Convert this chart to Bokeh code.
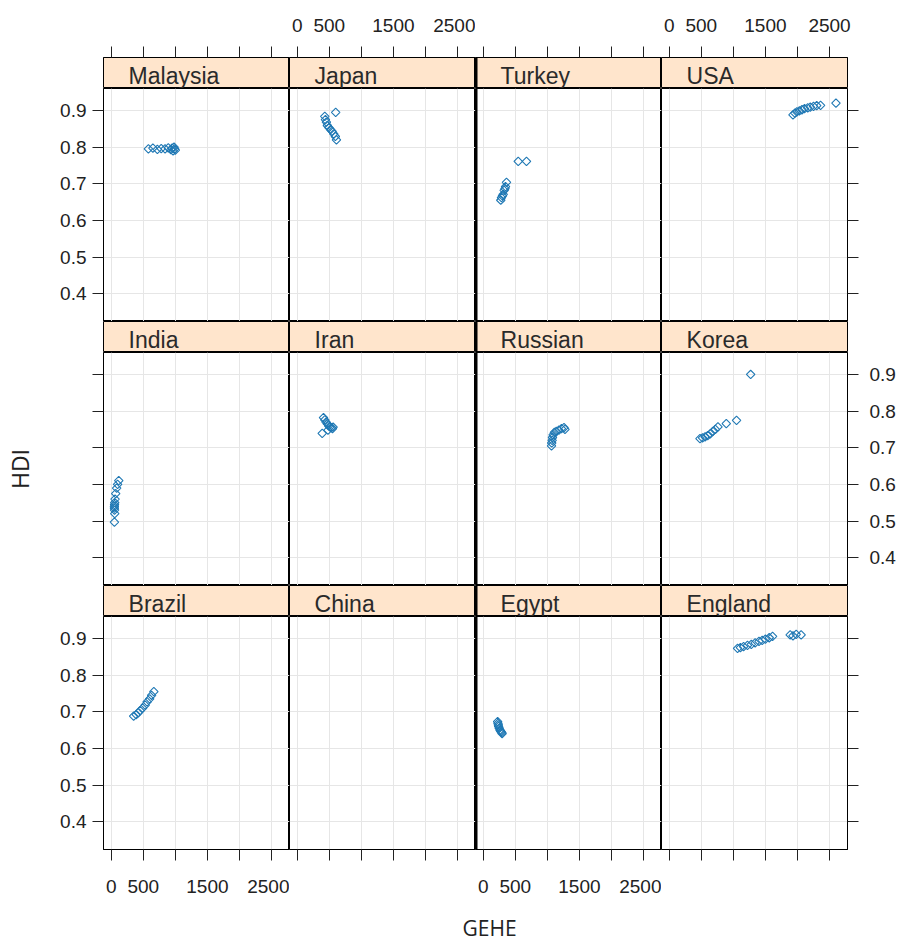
import numpy as np
from bokeh.plotting import figure
from bokeh.layouts import gridplot, column
from bokeh.models import Range1d, FixedTicker, LinearAxis, Span
from bokeh.core.properties import value
from bokeh.embed import file_html
from bokeh.resources import INLINE

# ---------------- data ----------------
countries = ["Malaysia", "Japan", "Turkey", "USA",
             "India", "Iran", "Russian", "Korea",
             "Brazil", "China", "Egypt", "England"]

malaysia_gehe = [580, 650, 720, 780, 840, 890, 930, 950, 965, 980, 990, 1000]
malaysia_hdi = [0.795, 0.797, 0.794, 0.796, 0.795, 0.798, 0.793, 0.797, 0.790, 0.800, 0.795, 0.792]
japan_gehe = [430, 440, 455, 470, 495, 520, 545, 570, 595, 612, 600]
japan_hdi = [0.884, 0.875, 0.868, 0.859, 0.853, 0.848, 0.843, 0.836, 0.829, 0.820, 0.895]
turkey_gehe = [274, 285, 300, 312, 327, 340, 348, 363, 546, 675]
turkey_hdi = [0.655, 0.662, 0.667, 0.671, 0.682, 0.687, 0.692, 0.704, 0.761, 0.761]
usa_gehe = [1930, 1960, 1990, 2030, 2070, 2110, 2160, 2200, 2250, 2300, 2360, 2600]
usa_hdi = [0.888, 0.893, 0.896, 0.899, 0.902, 0.905, 0.907, 0.909, 0.911, 0.913, 0.914, 0.920]
india_gehe = [118, 100, 85, 70, 60, 55, 52, 50, 50, 52, 55, 50]
india_hdi = [0.610, 0.600, 0.590, 0.575, 0.560, 0.550, 0.545, 0.540, 0.535, 0.530, 0.520, 0.497]
iran_gehe = [410, 430, 450, 470, 490, 510, 530, 550, 560, 480, 390]
iran_hdi = [0.782, 0.776, 0.770, 0.765, 0.760, 0.757, 0.755, 0.752, 0.756, 0.748, 0.739]
russian_gehe = [1065, 1068, 1075, 1080, 1090, 1110, 1140, 1180, 1220, 1260, 1275]
russian_hdi = [0.705, 0.713, 0.720, 0.728, 0.735, 0.742, 0.745, 0.748, 0.752, 0.755, 0.750]
korea_gehe = [480, 520, 560, 600, 640, 680, 720, 760, 890, 1050, 1270]
korea_hdi = [0.725, 0.727, 0.730, 0.733, 0.738, 0.745, 0.750, 0.757, 0.766, 0.775, 0.900]
brazil_gehe = [350, 390, 420, 450, 490, 530, 560, 600, 630, 665]
brazil_hdi = [0.688, 0.692, 0.697, 0.703, 0.710, 0.718, 0.727, 0.735, 0.745, 0.755]
china_gehe = []
china_hdi = []
egypt_gehe = [225, 230, 236, 240, 250, 262, 270, 280, 290, 295]
egypt_hdi = [0.673, 0.668, 0.664, 0.660, 0.655, 0.650, 0.648, 0.645, 0.643, 0.640]
england_gehe = [1066, 1110, 1160, 1220, 1280, 1340, 1400, 1450, 1500, 1560, 1612, 1886, 1930, 1980, 2057]
england_hdi = [0.873, 0.875, 0.878, 0.881, 0.884, 0.888, 0.892, 0.895, 0.898, 0.902, 0.906, 0.910, 0.907, 0.911, 0.910]

gehe_values = [malaysia_gehe, japan_gehe, turkey_gehe, usa_gehe,
               india_gehe, iran_gehe, russian_gehe, korea_gehe,
               brazil_gehe, china_gehe, egypt_gehe, england_gehe]
hdi_values = [malaysia_hdi, japan_hdi, turkey_hdi, usa_hdi,
              india_hdi, iran_hdi, russian_hdi, korea_hdi,
              brazil_hdi, china_hdi, egypt_hdi, england_hdi]

x_ticks = [0, 500, 1000, 1500, 2000, 2500]
x_hidden_labels = [1000, 2000]
y_ticks = [0.4, 0.5, 0.6, 0.7, 0.8, 0.9]
x_title = "GEHE"
y_title = "HDI"

# ---------------- style / geometry ----------------
X_LIM = (-120, 2780)
Y_LIM = (0.324, 0.96)
NCOL, NROW = 4, 3
FW, PH, SH = 186, 233, 31
LEFT_B, RIGHT_B, TOP_B, BOT_B = 103, 50, 57, 56
TITLE_H = 36
STRIP_FILL = "#ffe5cc"
PT_COLOR = "#1f78b4"
GRID_COLOR = "#e6e6e6"
TICK_FONT = "19px"
FONT = "Liberation Sans"


def base_fig(h, r, c, is_strip):
    p = figure(frame_width=FW, frame_height=h,
               x_range=Range1d(*X_LIM),
               y_range=Range1d(0, 1) if is_strip else Range1d(*Y_LIM),
               x_axis_location=None, y_axis_location=None,
               toolbar_location=None, output_backend="svg", min_border=0)
    p.min_border_left = LEFT_B if c == 0 else 0
    p.min_border_right = RIGHT_B if c == NCOL - 1 else 0
    p.min_border_top = TOP_B if (is_strip and r == 0) else 0
    p.min_border_bottom = BOT_B if (not is_strip and r == NROW - 1) else 0
    p.outline_line_color = "black"
    p.outline_line_width = 1
    p.border_fill_color = "white"
    if c == 2:
        p.add_layout(Span(location=X_LIM[0], dimension="height",
                          line_color="black", line_width=4))
    return p


def style_axis(ax, show_labels, standoff):
    ax.major_tick_out = 11
    ax.major_tick_in = 0
    ax.minor_tick_out = 0
    ax.minor_tick_in = 0
    ax.major_tick_line_color = "#222222"
    ax.axis_line_color = "black"
    ax.major_label_standoff = standoff
    ax.major_label_text_font = FONT
    ax.major_label_text_font_size = TICK_FONT
    ax.major_label_text_color = "#222222" if show_labels else None


def make_strip(name, r, c):
    p = base_fig(SH, r, c, True)
    p.grid.visible = False
    p.background_fill_color = STRIP_FILL
    p.text(x=[X_LIM[0] + 0.135 * (X_LIM[1] - X_LIM[0])], y=[0.40], text=[name],
           text_font=value(FONT), text_font_size="23px",
           text_baseline="alphabetic", text_align="left", text_color="#2a2a2a")
    if r == 0:
        ax = LinearAxis(ticker=FixedTicker(ticks=x_ticks),
                        major_label_overrides={v: "" for v in x_hidden_labels})
        style_axis(ax, c % 2 == 1, 15)
        p.add_layout(ax, "above")
    return p


def make_panel(gx, gy, r, c):
    p = base_fig(PH, r, c, False)
    p.xgrid.ticker = FixedTicker(ticks=x_ticks)
    p.ygrid.ticker = FixedTicker(ticks=y_ticks)
    p.grid.grid_line_color = GRID_COLOR
    p.grid.grid_line_width = 1
    if len(gx):
        p.scatter(gx, gy, marker="square", angle=np.pi / 4, size=6,
                  fill_color=None, line_color=PT_COLOR, line_width=1.1)
    if c == 0:
        ax = LinearAxis(ticker=FixedTicker(ticks=y_ticks))
        style_axis(ax, r % 2 == 0, 6)
        if r == 1:
            ax.axis_label = y_title
            ax.axis_label_text_font = "Open Sans"
            ax.axis_label_text_font_size = "23px"
            ax.axis_label_text_font_style = "normal"
            ax.axis_label_text_color = "#222222"
            ax.axis_label_standoff = 57
        p.add_layout(ax, "left")
    if c == NCOL - 1:
        ax = LinearAxis(ticker=FixedTicker(ticks=y_ticks))
        style_axis(ax, r == 1, 11)
        p.add_layout(ax, "right")
    if r == NROW - 1:
        ax = LinearAxis(ticker=FixedTicker(ticks=x_ticks),
                        major_label_overrides={v: "" for v in x_hidden_labels})
        style_axis(ax, c % 2 == 0, 19)
        p.add_layout(ax, "below")
    return p


rows = []
for r in range(NROW):
    strips, panels = [], []
    for c in range(NCOL):
        k = r * NCOL + c
        strips.append(make_strip(countries[k], r, c))
        panels.append(make_panel(gehe_values[k], hdi_values[k], r, c))
    rows.append(strips)
    rows.append(panels)

grid = gridplot(rows, toolbar_location=None)

g = figure(frame_width=NCOL * FW, frame_height=TITLE_H, x_range=Range1d(0, 1), y_range=Range1d(0, 1),
           x_axis_location=None, y_axis_location=None, toolbar_location=None,
           output_backend="svg", min_border=0)
g.min_border_left = LEFT_B
g.min_border_right = RIGHT_B
g.outline_line_color = None
g.grid.visible = False
g.text(x=[0.519], y=[0.37], text=[x_title], text_align="center", text_baseline="alphabetic",
       text_font=value("Open Sans"), text_font_size="21px", text_color="#222222")

layout = column(grid, g)
open("out.html", "w").write(file_html(layout, INLINE))
